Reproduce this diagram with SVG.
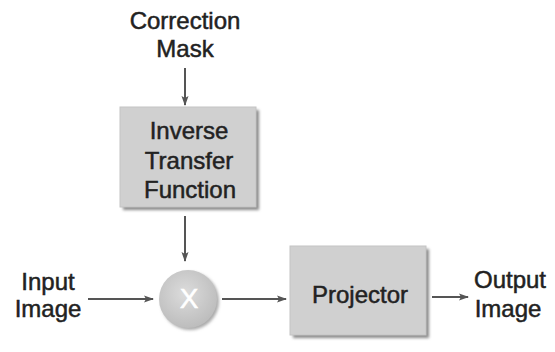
<svg xmlns="http://www.w3.org/2000/svg" width="555" height="352" viewBox="0 0 555 352">
<defs>
<marker id="ah" markerWidth="10" markerHeight="8" refX="9" refY="4" orient="auto" markerUnits="userSpaceOnUse">
<path d="M0,0.5 L10,4 L0,7.5 L2,4 Z" fill="#555"/>
</marker>
<radialGradient id="cg" cx="0.45" cy="0.4" r="0.6">
<stop offset="0" stop-color="#dcdcdc"/>
<stop offset="1" stop-color="#bdbdbd"/>
</radialGradient>
<filter id="blur" x="-20%" y="-20%" width="140%" height="140%"><feGaussianBlur stdDeviation="1.5"/></filter>
</defs>
<style>
.t{font-family:"Liberation Sans",Arial,sans-serif;font-size:24px;fill:#222;stroke:#222;stroke-width:0.5;text-anchor:middle}
.box{fill:#d0d0d0;stroke:#c4c4c4;stroke-width:1}
.sh{fill:#8a8a8a}
.c{stroke:#555;stroke-width:2;fill:none;marker-end:url(#ah)}
</style>
<rect width="555" height="352" fill="#fff"/>
<g id="correction-mask">
<text class="t" x="185" y="29">Correction</text>
<text class="t" x="185" y="57">Mask</text>
</g>
<g id="inverse-transfer-function">
<rect class="sh" x="123" y="110" width="136" height="100" filter="url(#blur)"/>
<rect class="box" x="120" y="107" width="136" height="100"/>
<text class="t" x="189" y="139">Inverse</text>
<text class="t" x="189" y="169">Transfer</text>
<text class="t" x="190" y="198">Function</text>
</g>
<g id="multiply">
<circle cx="190" cy="301" r="29" fill="#aaa" filter="url(#blur)"/>
<circle cx="188" cy="299" r="29" fill="url(#cg)"/>
<text class="t" x="189" y="308" style="fill:#fff;stroke:#fff;font-size:28px">X</text>
</g>
<g id="input-image">
<text class="t" x="48" y="290">Input</text>
<text class="t" x="48" y="317">Image</text>
</g>
<g id="projector">
<rect class="sh" x="293" y="249" width="136" height="89" filter="url(#blur)"/>
<rect class="box" x="290" y="246" width="136" height="89"/>
<text class="t" x="360" y="303">Projector</text>
</g>
<g id="output-image">
<text class="t" x="510" y="288">Output</text>
<text class="t" x="508" y="317">Image</text>
</g>
<g id="connectors">
<line class="c" x1="185" y1="68" x2="185" y2="105"/>
<line class="c" x1="185" y1="216" x2="185" y2="261"/>
<line class="c" x1="88" y1="299" x2="153" y2="299"/>
<line class="c" x1="222" y1="299" x2="286" y2="299"/>
<line class="c" x1="432" y1="297" x2="468" y2="297"/>
</g>
</svg>
